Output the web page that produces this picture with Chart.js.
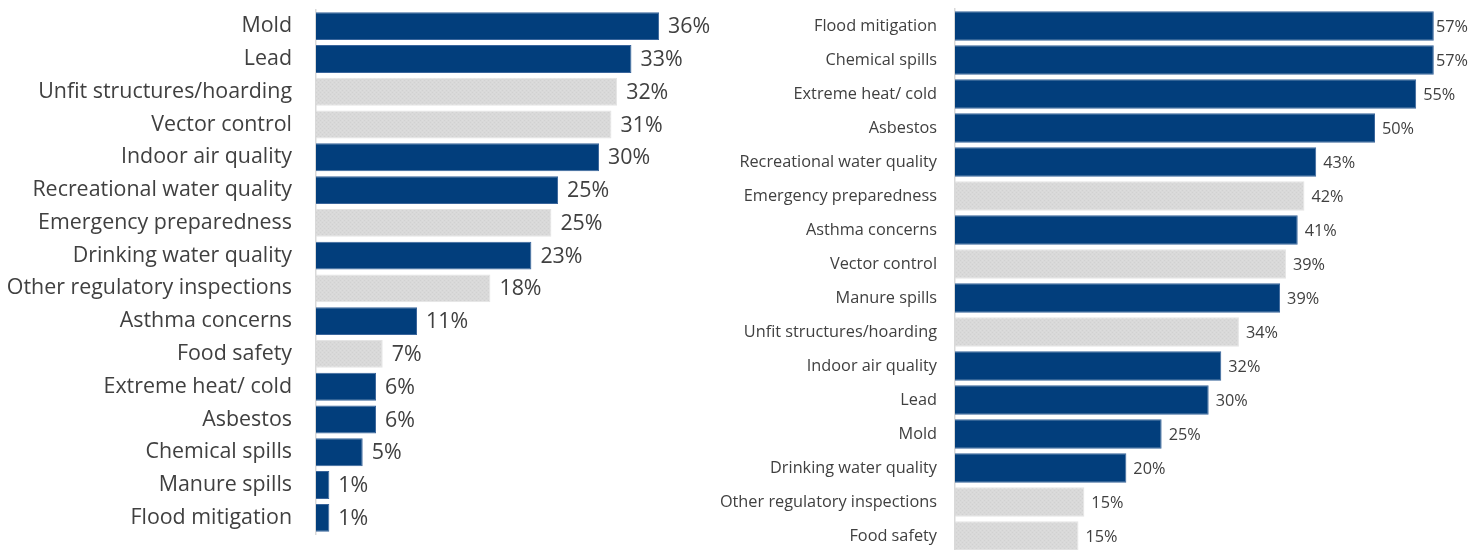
<!DOCTYPE html>
<html>
<head>
<meta charset="utf-8">
<script src="https://cdn.jsdelivr.net/npm/chart.js@4"></script>
<style>
  html, body { margin:0; padding:0; background:#ffffff; width:1477px; height:550px; overflow:hidden; position:relative; }
  #leftWrap { position:absolute; left:0; top:0; width:760px; height:550px; }
  #rightWrap { position:absolute; left:640px; top:0; width:837px; height:556px; }
</style>
</head>
<body>
<div id="leftWrap"><canvas id="leftChart" width="760" height="550"></canvas></div>
<div id="rightWrap"><canvas id="rightChart" width="837" height="556"></canvas></div>
<script>
// ---- data ----
const leftCategories = ["Mold","Lead","Unfit structures/hoarding","Vector control","Indoor air quality","Recreational water quality","Emergency preparedness","Drinking water quality","Other regulatory inspections","Asthma concerns","Food safety","Extreme heat/ cold","Asbestos","Chemical spills","Manure spills","Flood mitigation"];
const leftValues = [36.0, 33.1, 31.6, 31.0, 29.7, 25.4, 24.7, 22.6, 18.3, 10.6, 7.0, 6.3, 6.3, 4.9, 1.4, 1.4];

const rightCategories = ["Flood mitigation","Chemical spills","Extreme heat/ cold","Asbestos","Recreational water quality","Emergency preparedness","Asthma concerns","Vector control","Manure spills","Unfit structures/hoarding","Indoor air quality","Lead","Mold","Drinking water quality","Other regulatory inspections","Food safety"];
const rightValues = [57.0, 57.0, 54.9, 50.0, 43.0, 41.6, 40.8, 39.4, 38.7, 33.8, 31.7, 30.2, 24.6, 20.4, 15.4, 14.7];

const grayCategories = ["Unfit structures/hoarding","Vector control","Emergency preparedness","Other regulatory inspections","Food safety"];

// ---- styles ----
const BLUE = '#023e7c';
const BLUE_EDGE = '#3a659b';
const GRAY_EDGE = '#e4e4e4';
const TEXT = '#404040';
const FONT = '"Open Sans"';

function grayPattern() {
  const c = document.createElement('canvas');
  c.width = 4; c.height = 4;
  const g = c.getContext('2d');
  g.fillStyle = '#d9d9d9'; g.fillRect(0,0,4,4);
  g.fillStyle = '#d1d1d1';
  g.fillRect(0,0,1,1); g.fillRect(2,2,1,1);
  g.fillStyle = '#dddddd';
  g.fillRect(2,0,1,1); g.fillRect(0,2,1,1);
  return g.createPattern(c, 'repeat');
}
const GRAY = grayPattern();

const valueLabelPlugin = {
  id: 'valueLabels',
  afterDatasetsDraw(chart, args, opts) {
    const ctx = chart.ctx;
    const meta = chart.getDatasetMeta(0);
    const vals = chart.data.datasets[0].data;
    ctx.save();
    ctx.font = opts.fontSize + 'px ' + FONT;
    ctx.fillStyle = TEXT;
    ctx.textBaseline = 'middle';
    ctx.textAlign = 'left';
    meta.data.forEach((bar, i) => {
      const t = Math.round(vals[i]) + '%';
      const w = ctx.measureText(t).width;
      let x = bar.x + opts.offset;
      x = Math.min(x, chart.width - w - opts.edge);
      ctx.fillText(t, x, bar.y + 1);
    });
    ctx.restore();
  }
};

function makeChart(id, cats, vals, cfg) {
  const ctx = document.getElementById(id);
  return new Chart(ctx, {
    type: 'bar',
    data: {
      labels: cats,
      datasets: [{
        data: vals,
        backgroundColor: cats.map(c => grayCategories.includes(c) ? GRAY : BLUE),
        borderColor: cats.map(c => grayCategories.includes(c) ? GRAY_EDGE : BLUE_EDGE),
        borderWidth: 1,
        borderSkipped: 'start',
        categoryPercentage: 1.0,
        barPercentage: cfg.barPct
      }]
    },
    options: {
      indexAxis: 'y',
      responsive: false,
      animation: false,
      layout: { padding: cfg.padding },
      plugins: {
        legend: { display: false },
        tooltip: { enabled: false },
        valueLabels: { fontSize: cfg.labelSize, offset: cfg.labelOffset, edge: 9 }
      },
      scales: {
        x: { display: false, min: 0, max: cfg.max },
        y: {
          afterFit: (s) => { s.width = cfg.axisWidth; s.paddingTop = 0; s.paddingBottom = 0; },
          grid: { display: false, drawTicks: false },
          border: { display: true, color: '#d9d9d9', width: 1.5 },
          ticks: {
            padding: cfg.tickPadding,
            color: TEXT,
            font: { family: 'Open Sans', size: cfg.tickSize },
            autoSkip: false
          }
        }
      }
    },
    plugins: [valueLabelPlugin]
  });
}

makeChart('leftChart', leftCategories, leftValues, {
  padding: { top: 9.8, bottom: 15.8, left: 0, right: 62.8 },
  axisWidth: 316, max: 40, tickPadding: 24, tickSize: 21.4, labelSize: 21.4, labelOffset: 9, barPct: 0.85
});
makeChart('rightChart', rightCategories, rightValues, {
  padding: { top: 9, bottom: 3, left: 0, right: 18 },
  axisWidth: 315, max: 60, tickPadding: 18, tickSize: 16.3, labelSize: 16.3, labelOffset: 7, barPct: 0.865
});
</script>
</body>
</html>
